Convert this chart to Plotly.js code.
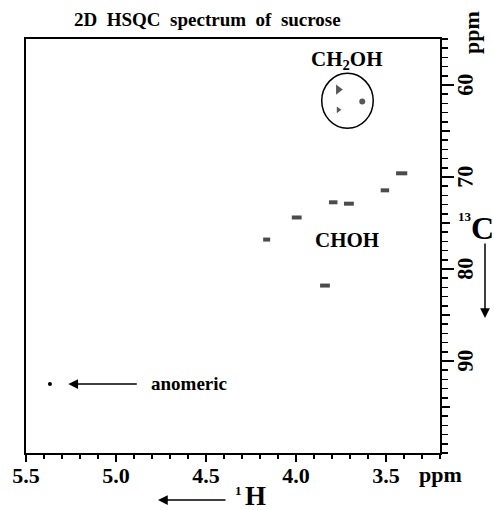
<!DOCTYPE html>
<html>
<head>
<meta charset="utf-8">
<script src="https://cdn.plot.ly/plotly-3.0.1.min.js"></script>
<style>
  html, body { margin: 0; padding: 0; background: #fff; }
  #chart { width: 494px; height: 510px; }
</style>
</head>
<body>
<div id="chart"></div>
<script>
// 1H / 13C chemical shifts (ppm) of the cross-peaks
const ch2ohH = [3.765, 3.765, 3.632];
const ch2ohC = [60.5, 62.7, 61.8];
const chohH = [3.413, 3.506, 3.793, 3.706, 3.996, 4.163, 3.839];
const chohC = [69.6, 71.45, 72.75, 72.9, 74.4, 76.8, 81.8];
const anomericH = [5.367];
const anomericC = [92.5];

const xTickVals = [5.5, 5.0, 4.5, 4.0, 3.5];
const xTickText = ['5.5', '5.0', '4.5', '4.0', '3.5'];
const yTickVals = [60, 70, 80, 90];
const yTickText = ['60', '70', '80', '90'];
const yMidTicks = [65, 75, 85, 95];

const FONT = 'Liberation Serif, Times New Roman, serif';

const traces = [
  {
    x: ch2ohH, y: ch2ohC, type: 'scatter', mode: 'markers',
    marker: { symbol: ['triangle-right', 'triangle-right', 'circle'], size: [9, 6, 6],
              color: '#111', line: { width: 0 } },
    hoverinfo: 'x+y', showlegend: false
  },
  {
    x: chohH, y: chohC, type: 'scatter', mode: 'markers',
    marker: { symbol: 'line-ew', size: [8, 6, 6, 7, 7, 5, 7],
              line: { width: 4, color: '#000' } },
    hoverinfo: 'x+y', showlegend: false
  },
  {
    x: anomericH, y: anomericC, type: 'scatter', mode: 'markers',
    marker: { symbol: 'circle', size: 4, color: '#000' },
    hoverinfo: 'x+y', showlegend: false
  },
  { x: [null], y: [null], yaxis: 'y2', type: 'scatter', mode: 'markers',
    hoverinfo: 'skip', showlegend: false }
];

function px2paperX(px) { return (px - 26) / 414; }
function px2paperY(py) { return (453 - py) / 414; }

function label(text, px, py, size, extra) {
  return Object.assign({
    text: text, xref: 'paper', yref: 'paper', x: px2paperX(px), y: px2paperY(py),
    xanchor: 'center', yanchor: 'middle', showarrow: false,
    font: { family: FONT, size: size, weight: 'bold', color: '#000' }
  }, extra || {});
}

const layout = {
  width: 494, height: 510,
  margin: { l: 26, r: 54, t: 39, b: 57, pad: 0 },
  paper_bgcolor: '#fff', plot_bgcolor: '#fff',
  showlegend: false,
  font: { family: FONT, color: '#000' },
  xaxis: {
    range: [5.5, 3.2], autorange: false,
    showgrid: false, zeroline: false,
    showline: true, linewidth: 2, linecolor: '#000', mirror: true,
    ticks: 'outside', tickvals: xTickVals, ticktext: xTickText,
    ticklen: 7, tickwidth: 1.5, tickcolor: '#000', ticklabelstandoff: -5,
    tickfont: { family: FONT, size: 22, weight: 'bold', color: '#000' },
    minor: { dtick: 0.1, tick0: 5.5, ticks: 'outside', ticklen: 4, tickwidth: 1.5, tickcolor: '#000', showgrid: false }
  },
  yaxis: {
    range: [100, 55], autorange: false, side: 'right',
    showgrid: false, zeroline: false,
    showline: true, linewidth: 2, linecolor: '#000', mirror: true,
    ticks: 'outside', tickvals: yTickVals, ticktext: yTickText,
    ticklen: 12, tickwidth: 1.5, tickcolor: '#000', tickangle: -89.9,
    ticklabelshift: -14, ticklabelstandoff: 3,
    tickfont: { family: FONT, size: 22, weight: 'bold', color: '#000' },
    minor: { dtick: 1, tick0: 55, ticks: 'outside', ticklen: 6, tickwidth: 1.5, tickcolor: '#000', showgrid: false }
  },
  yaxis2: {
    overlaying: 'y', side: 'right', range: [100, 55], autorange: false,
    showgrid: false, zeroline: false, showline: false,
    ticks: 'outside', tickvals: yMidTicks, ticklen: 9, tickwidth: 1.5, tickcolor: '#000',
    showticklabels: false
  },
  shapes: [
    { type: 'circle', xref: 'x', yref: 'y', x0: 3.857, x1: 3.571, y0: 58.73, y1: 64.7,
      line: { color: '#000', width: 1.5 } }
  ],
  annotations: [
    label('2D  HSQC  spectrum  of  sucrose', 207, 19, 19),
    { text: 'CH<sub>2</sub>OH', xref: 'x', yref: 'y', x: 3.718, y: 57.3, showarrow: false,
      xanchor: 'center', yanchor: 'middle',
      font: { family: FONT, size: 21, weight: 'bold', color: '#000' } },
    { text: 'CHOH', xref: 'x', yref: 'y', x: 3.719, y: 76.8, showarrow: false,
      xanchor: 'center', yanchor: 'middle',
      font: { family: FONT, size: 21, weight: 'bold', color: '#000' } },
    { text: 'anomeric', xref: 'x', yref: 'y', x: 4.594, y: 92.4, showarrow: false,
      xanchor: 'center', yanchor: 'middle',
      font: { family: FONT, size: 19, weight: 'bold', color: '#000' } },
    { text: '', xref: 'x', yref: 'y', x: 5.265, y: 92.5, showarrow: true,
      ax: 70, ay: 0, arrowhead: 2, arrowsize: 1.3, arrowwidth: 1.5, arrowcolor: '#000' },
    label('ppm', 440, 474, 22),
    label('ppm', 472, 32, 22, { textangle: -90 }),
    label('H', 255, 496, 27),
    label('1', 239, 490, 13),
    { text: '', xref: 'paper', yref: 'paper', x: px2paperX(158), y: px2paperY(500),
      showarrow: true, ax: 69, ay: 0, arrowhead: 2, arrowsize: 1.3, arrowwidth: 1.5, arrowcolor: '#000' },
    label('C', 482, 228, 32),
    label('13', 465, 216, 13),
    { text: '', xref: 'paper', yref: 'paper', x: px2paperX(485), y: px2paperY(318),
      showarrow: true, ax: 0, ay: -76, arrowhead: 2, arrowsize: 1.3, arrowwidth: 1.5, arrowcolor: '#000' }
  ]
};

Plotly.newPlot('chart', traces, layout, { displayModeBar: false, staticPlot: true });
</script>
</body>
</html>
